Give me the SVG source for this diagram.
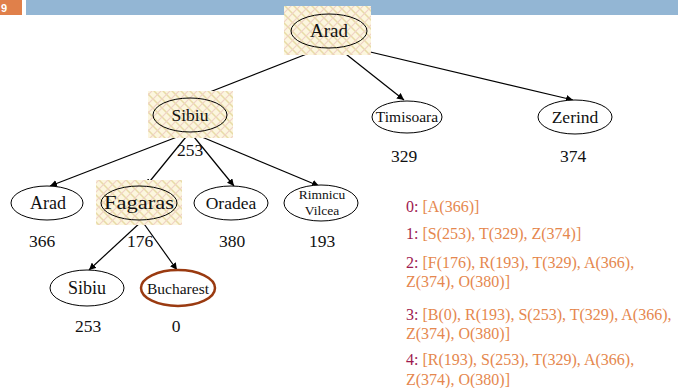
<svg xmlns="http://www.w3.org/2000/svg" width="678" height="388" viewBox="0 0 678 388">
<defs>
<pattern id="hatch" width="9" height="9" patternUnits="userSpaceOnUse">
<rect width="9" height="9" fill="#fcf6de"/>
<path d="M0 0L9 9M-1 8L1 10M8 -1L10 1" stroke="#e8dba6" stroke-width="1.5"/>
<path d="M9 0L0 9M-1 1L1 -1M8 10L10 8" stroke="#f0d2c6" stroke-width="1.2"/>
</pattern>
<marker id="arr" viewBox="0 0 10 10" refX="10" refY="5" markerWidth="7" markerHeight="7" orient="auto" markerUnits="userSpaceOnUse">
<path d="M0 0L10 5L0 10z" fill="#000"/>
</marker>
</defs>
<style>
.n{fill:#fff;stroke:#000;stroke-width:1}
.t{font-family:"Liberation Serif","Times New Roman",serif;fill:#111;text-anchor:middle}
.e{stroke:#000;stroke-width:1.2;fill:none;marker-end:url(#arr)}
.q{font-family:"Liberation Serif","Times New Roman",serif;font-size:16px;fill:#e5874e}
.q tspan.k{fill:#9e1a4e}
</style>
<rect x="0" y="0" width="22" height="15" fill="#e0804a"/>
<text x="1" y="12" font-family="Liberation Sans,Arial,sans-serif" font-size="11" font-weight="bold" fill="#fff">9</text>
<rect x="26" y="0" width="652" height="15" fill="#93b6d4"/>
<g id="connectors">
<line class="e" x1="322" y1="48" x2="197" y2="97"/>
<line class="e" x1="337" y1="47" x2="404" y2="100"/>
<line class="e" x1="345" y1="46" x2="573" y2="100"/>
<line class="e" x1="190" y1="132" x2="50" y2="186"/>
<line class="e" x1="190" y1="132" x2="146" y2="186"/>
<line class="e" x1="190" y1="132" x2="234" y2="186"/>
<line class="e" x1="190" y1="132" x2="319" y2="186"/>
<line class="e" x1="142" y1="221" x2="89" y2="270"/>
<line class="e" x1="142" y1="221" x2="177" y2="270"/>
</g>
<g id="n-arad0">
<rect x="284" y="6" width="87" height="49" fill="url(#hatch)"/>
<ellipse cx="329" cy="31" rx="38" ry="17" fill="none" stroke="#000"/>
<text class="t" x="329" y="37" font-size="19">Arad</text>
</g>
<g id="n-sibiu1">
<rect x="148" y="91" width="85" height="47" fill="url(#hatch)"/>
<ellipse cx="190" cy="115" rx="37" ry="17" fill="none" stroke="#000"/>
<text class="t" x="190" y="121" font-size="17.5">Sibiu</text>
<text class="t" x="190" y="156" font-size="17.5">253</text>
</g>
<g id="n-timisoara">
<ellipse class="n" cx="407" cy="117" rx="35" ry="16"/>
<text class="t" x="407" y="122" font-size="15.5">Timisoara</text>
<text class="t" x="404" y="162" font-size="17.5">329</text>
</g>
<g id="n-zerind">
<ellipse class="n" cx="575" cy="117" rx="37" ry="17"/>
<text class="t" x="575" y="123" font-size="17.5">Zerind</text>
<text class="t" x="573" y="162" font-size="17.5">374</text>
</g>
<g id="n-arad2">
<ellipse class="n" cx="47" cy="203" rx="36" ry="17"/>
<text class="t" x="48" y="209" font-size="18">Arad</text>
<text class="t" x="42" y="247" font-size="17.5">366</text>
</g>
<g id="n-fagaras">
<rect x="96" y="180" width="86" height="45" fill="url(#hatch)"/>
<ellipse cx="139" cy="203" rx="38" ry="17" fill="none" stroke="#000"/>
<text class="t" x="139" y="209" font-size="18" textLength="70" lengthAdjust="spacingAndGlyphs">Fagaras</text>
<text class="t" x="140" y="247" font-size="17.5">176</text>
</g>
<g id="n-oradea">
<ellipse class="n" cx="231" cy="203" rx="37" ry="17"/>
<text class="t" x="231" y="209" font-size="17.5">Oradea</text>
<text class="t" x="232" y="247" font-size="17.5">380</text>
</g>
<g id="n-rimnicu">
<ellipse class="n" cx="321" cy="203" rx="37" ry="18"/>
<text class="t" x="322" y="199" font-size="13.5">Rimnicu</text>
<text class="t" x="322" y="215" font-size="13.5">Vilcea</text>
<text class="t" x="322" y="247" font-size="17.5">193</text>
</g>
<g id="n-sibiu3">
<ellipse class="n" cx="87" cy="288" rx="37" ry="18"/>
<text class="t" x="87" y="294" font-size="18">Sibiu</text>
<text class="t" x="88" y="332" font-size="17.5">253</text>
</g>
<g id="n-bucharest">
<ellipse cx="178" cy="288" rx="37" ry="18" fill="#fff" stroke="#9a3a10" stroke-width="2.5"/>
<text class="t" x="178" y="294" font-size="15.5">Bucharest</text>
<text class="t" x="176" y="332" font-size="17.5">0</text>
</g>
<g id="queue">
<text class="q" x="406" y="212"><tspan class="k">0:</tspan> [A(366)]</text>
<text class="q" x="406" y="239"><tspan class="k">1:</tspan> [S(253), T(329), Z(374)]</text>
<text class="q" x="406" y="268"><tspan class="k">2:</tspan> [F(176), R(193), T(329), A(366),</text>
<text class="q" x="406" y="287">Z(374), O(380)]</text>
<text class="q" x="406" y="320"><tspan class="k">3:</tspan> [B(0), R(193), S(253), T(329), A(366),</text>
<text class="q" x="406" y="339">Z(374), O(380)]</text>
<text class="q" x="406" y="365"><tspan class="k">4:</tspan> [R(193), S(253), T(329), A(366),</text>
<text class="q" x="406" y="385">Z(374), O(380)]</text>
</g>
</svg>
